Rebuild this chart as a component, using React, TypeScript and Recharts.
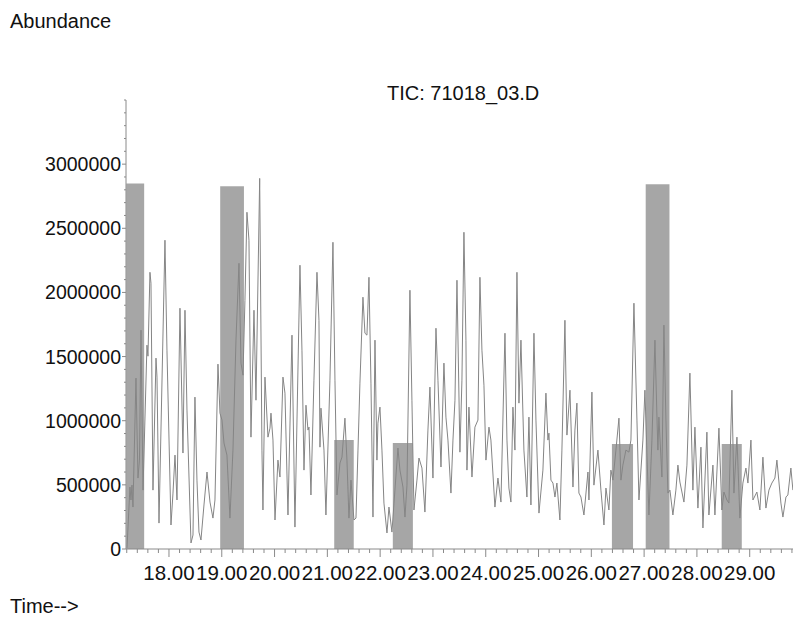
import { LineChart, Line, XAxis, YAxis, ReferenceArea } from 'recharts';

// retention time (min) / abundance pairs
const TRACE_EARLY: [number, number][] = [
  [17.205, 8000], [17.261, 483000], [17.28, 382000], [17.299, 498000], [17.318, 327000],
  [17.375, 1332000], [17.413, 553000], [17.441, 693000], [17.47, 1706000], [17.508, 459000],
  [17.583, 1589000], [17.602, 1503000], [17.64, 2157000], [17.659, 2072000], [17.697, 459000],
  [17.754, 1488000], [17.773, 1340000], [17.811, 202000], [17.924, 2407000], [17.962, 1550000],
  [18.038, 187000], [18.076, 436000], [18.114, 732000], [18.152, 382000], [18.208, 1877000],
  [18.265, 748000], [18.303, 1861000], [18.341, 1083000], [18.417, 47000], [18.455, 109000],
  [18.492, 1184000], [18.53, 537000], [18.568, 132000], [18.606, 70000], [18.663, 343000],
  [18.72, 600000], [18.777, 366000], [18.833, 241000], [18.871, 382000], [18.928, 1441000],
  [18.966, 1059000], [19.004, 1005000], [19.042, 826000], [19.098, 732000], [19.155, 241000],
  [19.212, 771000], [19.269, 1628000], [19.326, 2227000], [19.364, 1449000], [19.402, 1355000],
  [19.439, 1939000], [19.477, 2625000], [19.515, 2407000], [19.553, 872000], [19.61, 1861000],
  [19.648, 1160000], [19.718, 2889000], [19.761, 771000], [19.78, 304000], [19.818, 1340000],
  [19.875, 872000], [19.913, 942000], [19.932, 1059000], [19.97, 849000], [20.008, 226000],
  [20.064, 693000], [20.102, 561000], [20.159, 1340000], [20.197, 1215000], [20.254, 265000],
  [20.33, 1667000], [20.386, 171000], [20.481, 2212000], [20.519, 1550000], [20.557, 615000],
  [20.595, 1121000], [20.633, 927000], [20.652, 950000], [20.689, 421000], [20.746, 1316000],
  [20.803, 2157000], [20.841, 1783000], [20.86, 794000], [20.879, 1098000], [20.936, 771000],
  [20.973, 265000], [21.049, 1316000], [21.106, 2391000], [21.144, 1316000], [21.182, 421000],
  [21.239, 670000], [21.277, 716000], [21.333, 1020000], [21.371, 693000], [21.409, 241000],
  [21.447, 537000], [21.504, 226000], [21.542, 241000], [21.58, 771000], [21.617, 1293000],
  [21.674, 1963000], [21.712, 1682000], [21.75, 1667000], [21.788, 2118000], [21.826, 1293000],
  [21.864, 249000], [21.902, 1628000], [21.939, 693000], [21.958, 981000], [21.996, 1106000],
  [22.034, 771000], [22.072, 358000], [22.129, 125000], [22.167, 327000], [22.223, 132000],
];

const TRACE_MIDDLE: [number, number][] = [
  [22.28, 459000], [22.337, 787000], [22.375, 615000], [22.432, 483000], [22.47, 249000],
  [22.508, 498000], [22.564, 2017000], [22.602, 1160000], [22.64, 304000], [22.697, 537000],
  [22.735, 709000], [22.792, 631000], [22.848, 288000], [22.905, 927000], [22.943, 1262000],
  [23.0, 553000], [23.057, 1721000], [23.095, 1316000], [23.152, 639000], [23.208, 1449000],
  [23.246, 1028000], [23.284, 849000], [23.341, 436000], [23.379, 849000], [23.417, 1160000],
  [23.455, 2095000], [23.511, 755000], [23.549, 1316000], [23.587, 2469000], [23.625, 1628000],
  [23.644, 615000], [23.682, 1106000], [23.739, 561000], [23.795, 950000], [23.852, 1005000],
  [23.89, 2118000], [23.928, 1550000], [23.966, 1277000], [24.004, 693000], [24.061, 950000],
  [24.098, 849000], [24.174, 327000], [24.231, 553000], [24.288, 366000], [24.364, 1682000],
  [24.402, 849000], [24.439, 475000], [24.477, 366000], [24.515, 1106000], [24.553, 771000],
  [24.591, 2157000], [24.629, 1137000], [24.667, 1628000], [24.723, 771000], [24.78, 405000],
  [24.818, 1028000], [24.856, 343000], [24.913, 1682000], [24.951, 1005000], [25.008, 280000],
  [25.083, 615000], [25.14, 1215000], [25.178, 849000], [25.197, 903000], [25.235, 537000],
  [25.273, 514000], [25.311, 405000], [25.348, 514000], [25.405, 226000], [25.443, 771000],
  [25.5, 1783000], [25.538, 888000], [25.595, 1238000], [25.652, 483000], [25.689, 927000],
  [25.727, 1137000], [25.765, 436000], [25.803, 405000], [25.86, 265000], [25.936, 600000],
  [25.955, 382000], [26.011, 1223000], [26.049, 498000], [26.125, 771000], [26.182, 459000],
  [26.239, 187000], [26.277, 475000], [26.333, 304000], [26.371, 615000], [26.409, 537000],
  [26.466, 771000], [26.523, 1020000], [26.561, 537000], [26.598, 654000], [26.655, 771000],
  [26.712, 755000], [26.75, 849000], [26.807, 1916000], [26.864, 1005000], [26.902, 382000],
];

const TRACE_LATE: [number, number][] = [
  [26.977, 849000], [27.015, 1238000], [27.091, 265000], [27.148, 849000], [27.205, 1628000],
  [27.242, 1044000], [27.261, 771000], [27.28, 1028000], [27.337, 561000], [27.375, 1745000],
  [27.413, 1005000], [27.451, 436000], [27.489, 459000], [27.545, 265000], [27.602, 459000],
  [27.64, 654000], [27.678, 522000], [27.754, 366000], [27.811, 654000], [27.867, 1371000],
  [27.924, 459000], [27.962, 950000], [28.019, 319000], [28.076, 794000], [28.114, 164000],
  [28.189, 911000], [28.227, 265000], [28.303, 654000], [28.341, 265000], [28.417, 942000],
  [28.473, 304000], [28.511, 444000], [28.568, 382000], [28.606, 358000], [28.663, 1238000],
  [28.701, 436000], [28.758, 872000], [28.814, 241000], [28.871, 514000], [28.928, 631000],
  [28.966, 514000], [29.023, 849000], [29.061, 382000], [29.136, 444000], [29.193, 304000],
  [29.25, 716000], [29.307, 319000], [29.364, 459000], [29.42, 514000], [29.477, 553000],
  [29.515, 693000], [29.591, 358000], [29.629, 249000], [29.686, 405000], [29.723, 421000],
  [29.78, 631000], [29.818, 459000],
];

// shaded integration windows
const WINDOW_START = [17.19, 18.97, 21.13, 22.24, 26.39, 27.03, 28.47];
const WINDOW_END = [17.53, 19.42, 21.5, 22.62, 26.79, 27.48, 28.85];
const WINDOW_TOP = [2850000, 2827000, 849000, 826000, 818000, 2843000, 818000];

const TIME_LABELS = [18, 19, 20, 21, 22, 23, 24, 25, 26, 27, 28, 29];
const ABUNDANCE_LABELS = [0, 500000, 1000000, 1500000, 2000000, 2500000, 3000000];

const X_MIN = 17.186;
const X_MAX = 29.82;
const Y_MAX = 3500000;

const minorTimeTicks = Array.from({ length: 64 }, (_, i) => Math.round((17.2 + i * 0.2) * 10) / 10);
const minorAbundanceTicks = Array.from({ length: 36 }, (_, i) => i * 100000);

const data = [...TRACE_EARLY, ...TRACE_MIDDLE, ...TRACE_LATE].map(([t, a]) => ({ t, a }));

const FONT = 'Arial, "Liberation Sans", sans-serif';
const AXIS = '#8a8a8a';

const TimeTick = ({ x, y, payload }: any) => {
  const v = payload.value;
  const major = TIME_LABELS.some((m) => Math.abs(m - v) < 1e-6);
  return (
    <g>
      <line x1={x} x2={x} y1={y} y2={y + (major ? 8 : 4)} stroke={AXIS} />
      {major && (
        <text x={x} y={y + 31} textAnchor="middle" fontSize={20.5} fontFamily={FONT} fill="#111">
          {v.toFixed(2)}
        </text>
      )}
    </g>
  );
};

const AbundanceTick = ({ x, y, payload }: any) => {
  const v = payload.value;
  const major = ABUNDANCE_LABELS.includes(v);
  return (
    <g>
      <line x1={x} x2={x - (major ? 4 : 2)} y1={y} y2={y} stroke={AXIS} />
      {major && (
        <text x={x - 5} y={y + 7} textAnchor="end" fontSize={19.5} fontFamily={FONT} fill="#111">
          {v}
        </text>
      )}
    </g>
  );
};

export default function App() {
  return (
    <div style={{ position: 'absolute', left: 0, top: 0, width: 793, height: 621, background: '#fff', fontFamily: FONT }}>
      <div style={{ position: 'absolute', left: 10, top: 10, fontSize: 20, lineHeight: '22px', color: '#111' }}>Abundance</div>
      <div style={{ position: 'absolute', left: 387, top: 82, fontSize: 20, lineHeight: '22px', color: '#111' }}>TIC: 71018_03.D</div>
      <div style={{ position: 'absolute', left: 10, top: 595, fontSize: 20, lineHeight: '22px', color: '#111' }}>Time--&gt;</div>
      <LineChart width={793} height={621} data={data} margin={{ top: 100, right: 0, bottom: 32, left: 0 }}>
        <XAxis
          dataKey="t"
          type="number"
          domain={[X_MIN, X_MAX]}
          allowDataOverflow
          ticks={minorTimeTicks}
          interval={0}
          tick={<TimeTick />}
          tickSize={0}
          tickMargin={0}
          tickLine={false}
          height={40}
          axisLine={{ stroke: AXIS }}
        />
        <YAxis
          type="number"
          domain={[0, Y_MAX]}
          allowDataOverflow
          ticks={minorAbundanceTicks}
          interval={0}
          tick={<AbundanceTick />}
          tickSize={0}
          tickMargin={0}
          tickLine={false}
          width={126}
          axisLine={{ stroke: AXIS }}
        />
        {WINDOW_START.map((start, i) => (
          <ReferenceArea
            key={i}
            x1={start}
            x2={WINDOW_END[i]}
            y1={0}
            y2={WINDOW_TOP[i]}
            fill="#6a6a6a"
            fillOpacity={0.6}
            stroke="none"
            ifOverflow="hidden"
          />
        ))}
        <Line
          type="linear"
          dataKey="a"
          stroke="#858585"
          strokeWidth={1}
          dot={false}
          isAnimationActive={false}
        />
      </LineChart>
    </div>
  );
}
